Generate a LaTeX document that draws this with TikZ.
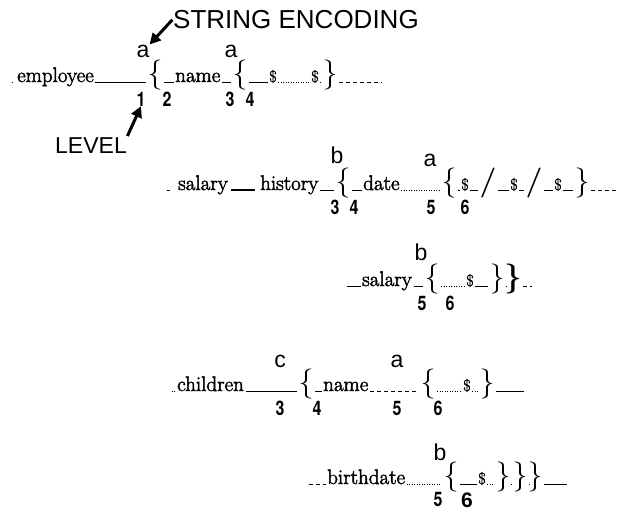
\documentclass[tikz,border=0pt]{standalone}
\usepackage{fontspec}
\newfontfamily\wordfont[FakeBold=2.2]{Latin Modern Roman}
\newfontfamily\labfont{Liberation Sans}
\newfontfamily\numfont[FakeStretch=0.8]{TeX Gyre Heros}
\usetikzlibrary{arrows.meta}

\begin{document}
\begin{tikzpicture}[x=1pt,y=-1pt,
  word/.style={inner sep=0pt,anchor=base west,font=\wordfont\fontsize{21}{21}\selectfont},
  dol/.style={inner sep=0pt,anchor=base,font=\wordfont\fontsize{16}{16}\selectfont},
  lab/.style={inner sep=0pt,anchor=base,font=\labfont\fontsize{23}{23}\selectfont},
  num/.style={inner sep=0pt,anchor=base,font=\numfont\bfseries\fontsize{20}{20}\selectfont},
  brc/.style={inner sep=0pt,anchor=base,font=\fontsize{30}{30}\selectfont},
  rl/.style={line width=0.5pt,shorten <=1.5pt,shorten >=1.5pt},
  dotrl/.style={rl,dash pattern=on 1pt off 1.5pt},
  dashrl/.style={rl,dash pattern=on 4pt off 3pt},
  bigarrow/.style={line width=3pt,-{Triangle[length=11pt,width=11pt]}}]
\useasboundingbox (0,0) rectangle (628,512);

% row 1: employee
\coordinate (r1s) at (10,82);
\node[word] (emp) at (17,82) {employee};
\node[lab] (a1) at (143,57) {a};
\node[num] (n1) at (141,106) {1};
\node[brc] (br1) at (155,82) {\{};
\node[num] (n2) at (167,106) {2};
\node[word] (nm1) at (175,82) {name};
\node[lab] (a2) at (231,57) {a};
\node[num] (n3) at (230,106) {3};
\node[brc] (br2) at (240,82) {\{};
\node[num] (n4) at (250,106) {4};
\node[dol] (d1) at (273,82) {\$};
\node[dol] (d2) at (315,82) {\$};
\node[brc] (cb1) at (330,82) {\}};
\coordinate (r1e) at (383,82);
\draw[rl,shorten >=4pt] (r1s) -- (emp.base west);
\draw[rl] (emp.base east) -- (br1.base west);
\draw[rl] (br1.base east) -- (nm1.base west);
\draw[rl] (nm1.base east) -- (br2.base west);
\draw[rl] (br2.base east) -- (d1.base west);
\draw[dotrl] (d1.base east) -- (d2.base west);
\draw[dotrl] (d2.base east) -- (cb1.base west);
\draw[dashrl] (cb1.base east) -- (r1e);

% the two pointers
\node[lab,anchor=base west,font=\labfont\fontsize{26}{26}\selectfont] (enc) at (173,28) {STRING ENCODING};
\node[lab,anchor=base west] (lev) at (55,153) {LEVEL};
\draw[bigarrow,shorten <=1pt] (enc.west) -- (a1.north east);
\draw[bigarrow,shorten <=1pt] (lev.north east) -- (n1.south);

% row 2: salary history
\coordinate (r2s) at (165,190);
\node[word] (sal1) at (178,190) {salary};
\node[word] (his) at (260,190) {history};
\node[lab] (b1) at (337,163) {b};
\node[num] (n5) at (335,214) {3};
\node[brc] (br3) at (343,190) {\{};
\node[num] (n6) at (354,214) {4};
\node[word] (dt) at (363,190) {date};
\node[lab] (a3) at (430,166) {a};
\node[num] (n7) at (431,214) {5};
\node[brc] (br4) at (449,190) {\{};
\node[dol] (d3) at (465,190) {\$};
\node[num] (n8) at (465,214) {6};
\node[brc,font=\bfseries\fontsize{30}{30}\selectfont] (sl1) at (488,190) {/};
\node[dol] (d4) at (514,190) {\$};
\node[brc,font=\bfseries\fontsize{30}{30}\selectfont] (sl2) at (534,190) {/};
\node[dol] (d5) at (558,190) {\$};
\node[brc] (cb2) at (582,190) {\}};
\coordinate (r2e) at (620,190);
\draw[rl,shorten >=8pt] (r2s) -- (sal1.base west);
\draw[rl,line width=1.3pt,shorten <=3pt,shorten >=5pt] (sal1.base east) -- (his.base west);
\draw[rl] (his.base east) -- (br3.base west);
\draw[rl] (br3.base east) -- (dt.base west);
\draw[dotrl] (dt.base east) -- (br4.base west);
\draw[rl] (br4.base east) -- (d3.base west);
\draw[rl] (d3.base east) -- (sl1.base west);
\draw[rl] (sl1.base east) -- (d4.base west);
\draw[rl] (d4.base east) -- (sl2.base west);
\draw[rl] (sl2.base east) -- (d5.base west);
\draw[rl] (d5.base east) -- (cb2.base west);
\draw[dashrl] (cb2.base east) -- (r2e);

% row 3: salary
\coordinate (r3s) at (345,286);
\node[word] (sal2) at (362,286) {salary};
\node[lab] (b2) at (421,260) {b};
\node[num] (n9) at (422,310) {5};
\node[brc] (br5) at (432,286) {\{};
\node[num] (n10) at (450,310) {6};
\node[dol] (d6) at (470,286) {\$};
\node[brc] (cb3) at (497,286) {\}};
\node[brc,font=\bfseries\fontsize{30}{30}\selectfont] (cb4) at (513,286) {\}};
\coordinate (r3e) at (533,286);
\draw[rl] (r3s) -- (sal2.base west);
\draw[rl] (sal2.base east) -- (br5.base west);
\draw[dotrl] (br5.base east) -- (d6.base west);
\draw[rl] (d6.base east) -- (cb3.base west);
\draw[dotrl] (cb3.base east) -- (cb4.base west);
\draw[dashrl] (cb4.base east) -- (r3e);

% row 4: children
\coordinate (r4s) at (170,391);
\node[word] (chl) at (177,391) {children};
\node[lab] (c1) at (280,367) {c};
\node[num] (n11) at (280,415) {3};
\node[brc] (br6) at (306,391) {\{};
\node[num] (n12) at (317,415) {4};
\node[word] (nm2) at (323,391) {name};
\node[lab] (a4) at (397,367) {a};
\node[num] (n13) at (397,415) {5};
\node[brc] (br7) at (428,391) {\{};
\node[num] (n14) at (438,415) {6};
\node[dol] (d7) at (467,391) {\$};
\node[brc] (cb5) at (487,391) {\}};
\coordinate (r4e) at (525,391);
\draw[dotrl] (r4s) -- (chl.base west);
\draw[rl] (chl.base east) -- (br6.base west);
\draw[rl] (br6.base east) -- (nm2.base west);
\draw[dashrl] (nm2.base east) -- (br7.base west);
\draw[dotrl] (br7.base east) -- (d7.base west);
\draw[dotrl] (d7.base east) -- (cb5.base west);
\draw[rl] (cb5.base east) -- (r4e);

% row 5: birthdate
\coordinate (r5s) at (307,484);
\node[word] (bd) at (327,484) {birthdate};
\node[lab] (b3) at (440,460) {b};
\node[num] (n15) at (438,506) {5};
\node[brc] (br8) at (451,484) {\{};
\node[num,font=\labfont\bfseries\fontsize{21}{21}\selectfont] (n16) at (467,507) {6};
\node[dol] (d8) at (482,484) {\$};
\node[brc] (cb6) at (503,484) {\}};
\node[brc] (cb7) at (520,484) {\}};
\node[brc] (cb8) at (535,484) {\}};
\coordinate (r5e) at (568,484);
\draw[dashrl] (r5s) -- (bd.base west);
\draw[dotrl] (bd.base east) -- (br8.base west);
\draw[rl] (br8.base east) -- (d8.base west);
\draw[dotrl] (d8.base east) -- (cb6.base west);
\draw[rl] (cb6.base east) -- (cb7.base west);
\draw[rl] (cb7.base east) -- (cb8.base west);
\draw[rl] (cb8.base east) -- (r5e);
\end{tikzpicture}
\end{document}
